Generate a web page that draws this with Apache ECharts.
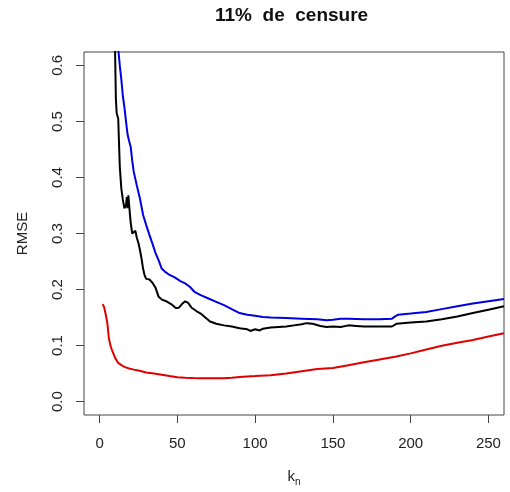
<!DOCTYPE html>
<html>
<head>
<meta charset="utf-8">
<script src="https://cdn.jsdelivr.net/npm/echarts@6/dist/echarts.min.js"></script>
<style>html,body{margin:0;padding:0;background:#fff}#c{width:510px;height:492px}</style>
</head>
<body>
<div id="c"></div>
<script>
// ---- data ----
const xTicks = [0, 50, 100, 150, 200, 250];
const yTicks = [0, 0.1, 0.2, 0.3, 0.4, 0.5, 0.6];

const redK = [2, 3, 4, 5, 6, 7, 8, 10, 12, 14, 16, 19, 22, 25, 30, 35, 40, 45, 50, 55, 60, 65, 70, 75, 80, 85, 90, 95, 100, 110, 120, 130, 140, 150, 160, 170, 180, 190, 200, 210, 220, 230, 240, 250, 260];
const redV = [0.174, 0.168, 0.155, 0.140, 0.113, 0.100, 0.092, 0.078, 0.069, 0.065, 0.062, 0.059, 0.057, 0.0555, 0.052, 0.050, 0.048, 0.0455, 0.0435, 0.0425, 0.042, 0.0418, 0.0418, 0.0418, 0.0418, 0.0425, 0.044, 0.0448, 0.0455, 0.047, 0.050, 0.054, 0.058, 0.060, 0.065, 0.070, 0.075, 0.080, 0.086, 0.093, 0.0995, 0.105, 0.110, 0.116, 0.122];

const blackK = [9.8, 10, 10.5, 11, 12, 13, 14, 15, 16, 17, 17.5, 18, 18.5, 19.2, 20, 21, 22, 23, 24, 25, 26, 27, 28, 29, 30, 32, 34, 36, 38, 40, 43, 46, 49, 51, 53, 55, 57, 59, 62, 65, 68, 71, 75, 80, 85, 90, 95, 97, 100, 103, 105, 110, 115, 120, 125, 130, 133, 137, 142, 146, 150, 155, 160, 165, 170, 180, 188, 191, 200, 210, 220, 230, 240, 250, 260];
const blackV = [0.70, 0.62, 0.54, 0.515, 0.505, 0.42, 0.38, 0.36, 0.345, 0.35, 0.365, 0.345, 0.368, 0.345, 0.32, 0.30, 0.301, 0.305, 0.292, 0.283, 0.27, 0.255, 0.237, 0.225, 0.219, 0.218, 0.212, 0.203, 0.187, 0.182, 0.179, 0.174, 0.167, 0.1675, 0.174, 0.179, 0.176, 0.168, 0.162, 0.157, 0.150, 0.143, 0.139, 0.136, 0.134, 0.131, 0.129, 0.126, 0.129, 0.127, 0.130, 0.132, 0.133, 0.134, 0.136, 0.138, 0.140, 0.139, 0.135, 0.133, 0.134, 0.133, 0.136, 0.135, 0.134, 0.134, 0.134, 0.139, 0.141, 0.143, 0.147, 0.152, 0.158, 0.164, 0.170];

const blueK = [10, 12, 13, 14, 15, 16, 17, 18, 19, 20, 21, 22, 24, 26, 28, 30, 32, 34, 36, 38, 40, 42, 45, 48, 52, 55, 58, 61, 65, 70, 75, 80, 85, 90, 95, 100, 105, 110, 120, 130, 140, 146, 150, 155, 160, 170, 180, 188, 190, 192, 200, 210, 220, 230, 240, 250, 260];
const blueV = [0.70, 0.63, 0.60, 0.575, 0.545, 0.525, 0.50, 0.477, 0.465, 0.455, 0.43, 0.41, 0.385, 0.362, 0.333, 0.315, 0.298, 0.282, 0.265, 0.252, 0.237, 0.232, 0.226, 0.222, 0.215, 0.211, 0.205, 0.196, 0.190, 0.184, 0.178, 0.172, 0.165, 0.158, 0.155, 0.153, 0.151, 0.150, 0.149, 0.148, 0.147, 0.145, 0.146, 0.148, 0.148, 0.147, 0.147, 0.148, 0.152, 0.155, 0.157, 0.160, 0.165, 0.170, 0.175, 0.179, 0.183];

const pairs = (ks, vs) => ks.map((k, i) => [k, vs[i]]);
const FONT = "'Liberation Sans', Arial, sans-serif";

const chart = echarts.init(document.getElementById('c'), null, {renderer: 'canvas'});
chart.setOption({
  animation: false,
  backgroundColor: '#fff',
  title: {
    text: '11%  de  censure',
    left: 215,
    top: 6,
    padding: 0,
    textStyle: {fontFamily: FONT, fontSize: 19, fontWeight: 'bold', color: '#111'}
  },
  grid: {left: 84, right: 6, top: 52, bottom: 77, show: true, borderColor: '#444', borderWidth: 1, backgroundColor: 'transparent'},
  xAxis: {
    type: 'value', min: -10, max: 260,
    name: '{k|k}{n|n}', nameLocation: 'middle', nameGap: 52, nameMoveOverlap: false,
    nameTextStyle: {fontFamily: FONT, color: '#222',
      rich: {k: {fontFamily: FONT, fontSize: 15, color: '#222', verticalAlign: 'middle'},
             n: {fontFamily: FONT, fontSize: 10, color: '#222', padding: [10, 0, 0, 0], verticalAlign: 'middle'}}},
    axisLine: {show: false, onZero: false},
    splitLine: {show: false},
    axisTick: {show: true, length: 8, lineStyle: {color: '#444'}, customValues: xTicks},
    axisLabel: {fontFamily: FONT, fontSize: 15, color: '#222', margin: 21, customValues: xTicks,
      formatter: v => String(v)}
  },
  yAxis: {
    type: 'value', min: -0.024, max: 0.624,
    name: 'RMSE', nameLocation: 'middle', nameGap: 54, nameRotate: 90, nameMoveOverlap: false,
    nameTextStyle: {fontFamily: FONT, fontSize: 15, color: '#222'},
    axisLine: {show: false, onZero: false},
    splitLine: {show: false},
    axisTick: {show: true, length: 8, lineStyle: {color: '#444'}, customValues: yTicks},
    axisLabel: {fontFamily: FONT, fontSize: 15, color: '#222', margin: 19, rotate: 90, customValues: yTicks,
      formatter: v => v.toFixed(1)}
  },
  series: [
    {type: 'line', name: 'red', data: pairs(redK, redV), showSymbol: false, clip: true,
     lineStyle: {color: '#e00000', width: 2}, itemStyle: {color: '#e00000'}},
    {type: 'line', name: 'black', data: pairs(blackK, blackV), showSymbol: false, clip: true,
     lineStyle: {color: '#000000', width: 2}, itemStyle: {color: '#000000'}},
    {type: 'line', name: 'blue', data: pairs(blueK, blueV), showSymbol: false, clip: true,
     lineStyle: {color: '#0000e0', width: 2}, itemStyle: {color: '#0000e0'}}
  ]
});
</script>
</body>
</html>
